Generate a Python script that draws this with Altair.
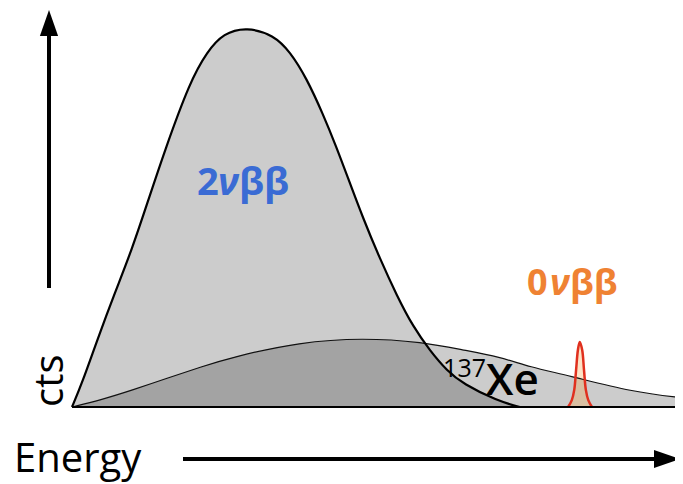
import altair as alt
import pandas as pd

# 2νββ spectrum (energy in % of drawn range, counts in % of the 2ν peak)
two_nu_E = [0, 1.6, 4.3, 7.0, 9.8, 12.5, 15.2, 19.3, 22.1, 24.8, 28.6, 33.0, 35.7,
            38.4, 41.1, 43.3, 45.0, 47.6, 50.4, 53.2, 55.8, 58.6, 61.4, 64.0, 69.6, 73.3]
two_nu_cts = [0, 6.1, 18.4, 30.0, 41.4, 54.5, 67.6, 85.6, 93.5, 98.4, 100, 97.9, 93.5,
              86.5, 77.0, 68.3, 61.0, 49.8, 39.0, 29.2, 21.2, 14.8, 9.5, 6.1, 1.6, 0]

# 137Xe background
xe_E = [0, 4.6, 10.0, 15.6, 21.0, 26.4, 37.3, 47.6, 57.4, 64.0, 70.0, 75.0, 81.0, 91.8, 100]
xe_cts = [0, 1.8, 4.5, 7.6, 10.5, 13.2, 17.1, 18.2, 17.1, 15.0, 13.2, 10.5, 8.4, 3.9, 2.4]

# 0νββ peak
zero_E = [81.2, 81.8, 82.2, 82.5, 82.8, 83.1, 83.5, 83.8, 84.1, 84.5, 85.1]
zero_cts = [0, 1.8, 4.5, 9.7, 15.0, 17.1, 15.0, 9.7, 4.5, 1.8, 0]

baseline_E = [0, 100]
baseline_cts = [0, 0]

# label pieces
two_label = ["2", "ν", "ββ"]
zero_label = ["0", "ν", "ββ"]
xe_label = ["137", "Xe"]
x_title = "Energy"
y_title = "cts"

FONT = "Open Sans"
BLUE = "#3a6bd4"
ORANGE = "#ef8233"

two_df = pd.DataFrame({"E": two_nu_E, "c": two_nu_cts})
xe_df = pd.DataFrame({"E": xe_E, "c": xe_cts})
zero_df = pd.DataFrame({"E": zero_E, "c": zero_cts})
base_df = pd.DataFrame({"E": baseline_E, "c": baseline_cts})
one = pd.DataFrame({"k": [0]})

xs = alt.Scale(domain=[0, 100], range=[64, 675], nice=False, zero=False)
ys = alt.Scale(domain=[0, 100], range=[399, 19], nice=False, zero=False)
X = alt.X("E:Q", scale=xs, axis=None)
Y = alt.Y("c:Q", scale=ys, axis=None)
SMOOTH = "basis"
PEAK = "catmull-rom"

two_area = alt.Chart(two_df).mark_area(color="#cccccc", interpolate=SMOOTH).encode(x=X, y=Y)
xe_area = alt.Chart(xe_df).mark_area(color="#000000", opacity=0.2, interpolate=SMOOTH).encode(x=X, y=Y)
zero_area = alt.Chart(zero_df).mark_area(color="#f8a241", opacity=0.3, interpolate=PEAK).encode(x=X, y=Y)

xe_line = alt.Chart(xe_df).mark_line(color="#111111", strokeWidth=1.2, interpolate=SMOOTH).encode(x=X, y=Y)
two_line = alt.Chart(two_df).mark_line(color="#000000", strokeWidth=2.2, interpolate=SMOOTH).encode(x=X, y=Y)
zero_line = alt.Chart(zero_df).mark_line(color="#e0301e", strokeWidth=2.5, interpolate=PEAK).encode(x=X, y=Y)
base_line = alt.Chart(base_df).mark_line(color="#000000", strokeWidth=2).encode(x=X, y=Y)


def txt(text, x, y, size, color="#000000", weight="normal", align="left", angle=0, style="normal"):
    kw = dict(text=text, font=FONT, fontSize=size, color=color, fontWeight=weight,
              align=align, baseline="alphabetic", fontStyle=style)
    if angle:
        kw["angle"] = angle
    return alt.Chart(one).mark_text(**kw).encode(x=alt.value(x), y=alt.value(y))


texts = [
    txt(two_label[0], 189, 187, 38, BLUE, "bold"),
    txt(two_label[1], 210, 187, 38, BLUE, "bold", style="italic"),
    txt(two_label[2], 231, 187, 38, BLUE, "bold"),
    txt(zero_label[0], 519, 287, 36, ORANGE, "bold"),
    txt(zero_label[1], 542, 287, 36, ORANGE, "bold", style="italic"),
    txt(zero_label[2], 562, 287, 36, ORANGE, "bold"),
    txt(xe_label[0], 478, 369, 25, align="right"),
    txt(xe_label[1], 478, 387, 44, weight=600),
    txt(x_title, 6, 464, 40),
    txt(y_title, 55, 399, 40, angle=270),
]

# arrows
HEAD = "M -0.7 1 L 0 -1 L 0.7 1 Z"
y_arrow = alt.Chart(one).mark_rule(color="#000000", strokeWidth=4).encode(
    x=alt.value(41), y=alt.value(280), y2=alt.value(20))
y_head = alt.Chart(one).mark_point(
    shape=HEAD, filled=True, opacity=1, color="#000000", size=676
).encode(x=alt.value(41), y=alt.value(15))
x_arrow = alt.Chart(one).mark_rule(color="#000000", strokeWidth=4).encode(
    x=alt.value(175), x2=alt.value(655), y=alt.value(451))
x_head = alt.Chart(one).mark_point(
    shape=HEAD, filled=True, opacity=1, color="#000000", size=676, angle=90
).encode(x=alt.value(659), y=alt.value(451))

chart = alt.layer(
    two_area, xe_area, zero_area, xe_line, two_line, zero_line, base_line,
    *texts,
    y_arrow, y_head, x_arrow, x_head,
).properties(
    width=667, height=475, autosize="none", padding=0
).configure_view(stroke=None)

chart.save("out.html", embed_options={"renderer": "svg", "actions": False})
